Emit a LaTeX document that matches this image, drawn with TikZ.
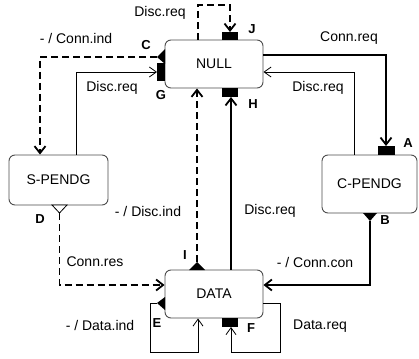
\documentclass[tikz,border=0pt]{standalone}
\usepackage{fontspec}
\setmainfont{Liberation Sans}
\usetikzlibrary{arrows.meta}
\tikzset{
  statebox/.style={draw=black!70, line width=0.9pt, rounded corners=6pt, fill=white,
    inner sep=0pt, font=\fontsize{14}{16}\selectfont},
  lbl/.style={inner sep=0pt, font=\fontsize{14}{16}\selectfont},
  pin/.style={inner sep=0pt, font=\fontsize{13}{15}\selectfont\bfseries},
  thickarr/.style={line width=1.8pt, -{Straight Barb[length=7pt,width=11pt]}},
  thinarr/.style={line width=0.8pt, -{Straight Barb[length=7pt,width=10pt]}},
  dasharr/.style={thickarr, dash pattern=on 7pt off 4pt},
}
\begin{document}
\begin{tikzpicture}[x=1pt,y=-1pt]
\useasboundingbox (0,0) rectangle (419,358);

% states
\node[statebox, minimum width=98pt, minimum height=48pt] (null) at (214,64) {NULL};
\node[statebox, minimum width=99pt, minimum height=50pt] (spend) at (58.5,180) {S-PENDG};
\node[statebox, minimum width=95pt, minimum height=58pt] (cpend) at (369.5,184) {C-PENDG};
\node[statebox, minimum width=98pt, minimum height=48pt] (data) at (214,294) {DATA};

% port points
\coordinate (pJ) at (230,32);
\coordinate (pH) at (231,97);
\coordinate (pC) at (157,57);
\coordinate (pG) at (157,72);
\coordinate (pA) at (386,146);
\coordinate (pB) at (370,221);
\coordinate (pD) at (59.5,213);
\coordinate (pI) at (197,262);
\coordinate (pE) at (157,303);
\coordinate (pF) at (231,327);
\coordinate (loopL) at (150,303);
\coordinate (loopR) at (280,303);
\coordinate (topJ) at (198,5);

% transitions
\draw[thickarr] (null.east |- 0,55) -| (pA);
\draw[thinarr] (cpend.north -| 354,0) |- (null.east |- 0,72);
\draw[thickarr] (pB) |- (data.east |- 0,285);
\draw[thickarr] (data.north -| pH) -- (pH);
\draw[dasharr] (pI) -- (null.south -| pI);
\draw[dasharr] (pD) |- (data.west |- 0,285);
\draw[dasharr] (pC) -| (spend.north -| 40,0);
\draw[thinarr] (spend.north -| 76,0) |- (pG);
\draw[dasharr] (null.north -| topJ) -- (topJ) -| (pJ);
\draw[thinarr] (pE) -- (loopL) |- (198,352) -- (data.south -| 198,0);
\draw[thinarr] (data.east |- loopR) -- (loopR) |- (pF |- 0,352) -- (pF);

% port markers
\fill (222,32) rectangle (238,40);
\fill (222,88) rectangle (238,97);
\fill (165,49) -- (157,57) -- (165,64) -- cycle;
\fill (157,63) rectangle (165,81);
\fill (378,146) rectangle (395,155);
\fill (363,213) -- (377,213) -- (370,221) -- cycle;
\filldraw[fill=white, line width=0.8pt] (52,205) -- (67,205) -- (59.5,213) -- cycle;
\fill (189,270) -- (205,270) -- (197,262) -- cycle;
\fill (165,297) -- (157,303) -- (165,310) -- cycle;
\fill (222,318) rectangle (238,327);

% port names
\node[pin] (lJ) at (252,29) {J};
\node[pin] (lH) at (253,104) {H};
\node[pin] (lC) at (146,45) {C};
\node[pin] (lG) at (161,95) {G};
\node[pin] (lA) at (408,143) {A};
\node[pin] (lB) at (385,220) {B};
\node[pin] (lD) at (40,219) {D};
\node[pin] (lI) at (185,255) {I};
\node[pin] (lE) at (157,323) {E};
\node[pin] (lF) at (251,328) {F};

% transition labels
\node[lbl] (t1) at (160,13) {Disc.req};
\node[lbl] (t2) at (349,38) {Conn.req};
\node[lbl] (t3) at (76,38) {- / Conn.ind};
\node[lbl] (t4) at (112,88) {Disc.req};
\node[lbl] (t5) at (318,88) {Disc.req};
\node[lbl] (t6) at (148,211) {- / Disc.ind};
\node[lbl] (t7) at (270,211) {Disc.req};
\node[lbl] (t8) at (95,262) {Conn.res};
\node[lbl] (t9) at (315,262) {- / Conn.con};
\node[lbl] (t10) at (100,325) {- / Data.ind};
\node[lbl] (t11) at (320,326) {Data.req};
\end{tikzpicture}
\end{document}
